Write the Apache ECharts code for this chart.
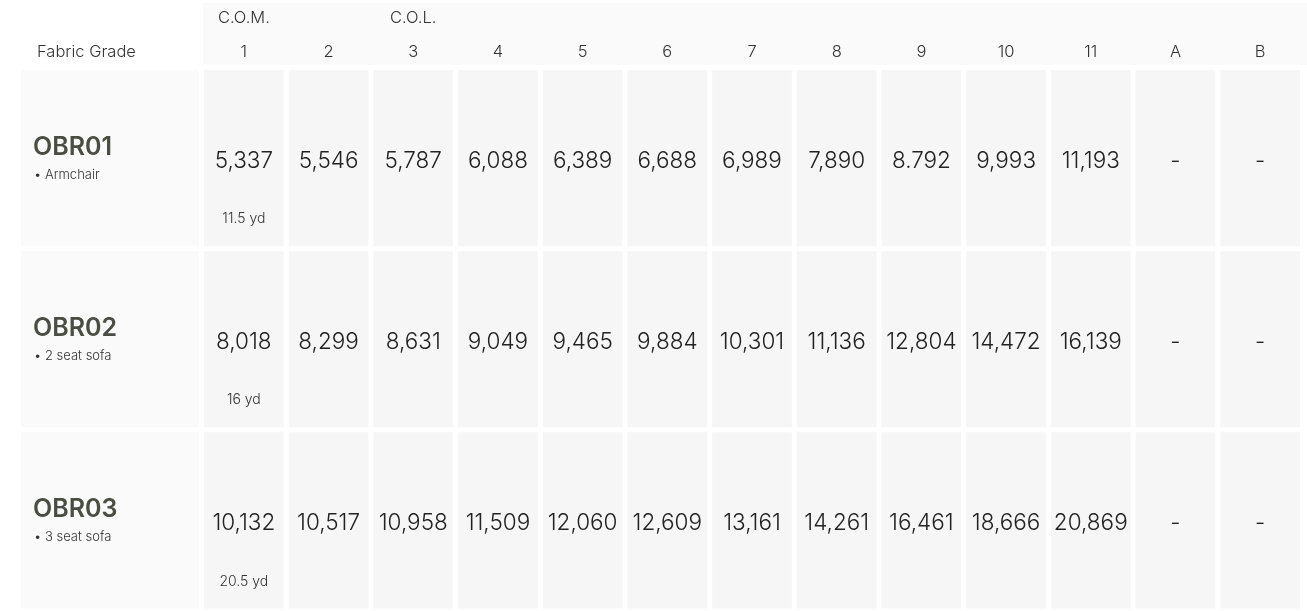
<!DOCTYPE html>
<html><head><meta charset="utf-8">
<script src="https://cdn.jsdelivr.net/npm/echarts@6/dist/echarts.min.js"></script>
<style>html,body{margin:0;padding:0;background:#fff}#c{width:1307px;height:611px}</style>
</head><body><div id="c"></div>
<script>
const grades = ['1','2','3','4','5','6','7','8','9','10','11','A','B'];
const gradeGroups = ['C.O.M.','','C.O.L.','','','','','','','','','',''];
const products = ['OBR01','OBR02','OBR03'];
const productTypes = ['Armchair','2 seat sofa','3 seat sofa'];
const yardage = ['11.5 yd','16 yd','20.5 yd'];
const pricesOBR01 = ['5,337','5,546','5,787','6,088','6,389','6,688','6,989','7,890','8.792','9,993','11,193','-','-'];
const pricesOBR02 = ['8,018','8,299','8,631','9,049','9,465','9,884','10,301','11,136','12,804','14,472','16,139','-','-'];
const pricesOBR03 = ['10,132','10,517','10,958','11,509','12,060','12,609','13,161','14,261','16,461','18,666','20,869','-','-'];
const priceRows = [pricesOBR01, pricesOBR02, pricesOBR03];

const FONT = 'Inter, "Noto Sans", sans-serif';
const cellData = [];
priceRows.forEach((row, r) => row.forEach((v, c) => cellData.push([c, r, v, c === 0 ? yardage[r] : ''])));
const labelData = products.map((p, r) => [0, r, p, productTypes[r]]);

const chart = echarts.init(document.getElementById('c'));
chart.setOption({
  animation: false,
  title: { text: 'Fabric Grade', left: 32, top: 39, textStyle: { fontFamily: FONT, fontSize: 16.5, fontWeight: 300, color: '#333' } },
  graphic: [{ type: 'rect', z: -10, shape: { x: 203, y: 3, width: 1104, height: 62 }, style: { fill: '#fafafa' } }],
  grid: [
    { left: 201.5, right: 4.5, top: 67.5, bottom: -0.5 },
    { left: 18.5, width: 183, top: 67.5, bottom: -0.5 }
  ],
  xAxis: [
    { type: 'category', gridIndex: 0, data: grades, position: 'top', axisLine: { show: false }, axisTick: { show: false },
      axisLabel: { margin: 6.5, fontFamily: FONT, fontSize: 16.5, fontWeight: 300, color: '#333' } },
    { type: 'category', gridIndex: 0, data: gradeGroups, position: 'top', offset: 34, axisLine: { show: false }, axisTick: { show: false },
      axisLabel: { margin: 6.5, fontFamily: FONT, fontSize: 16.5, fontWeight: 300, color: '#333', interval: 0 } },
    { type: 'category', gridIndex: 1, data: ['Fabric Grade'], show: false }
  ],
  yAxis: [
    { type: 'category', gridIndex: 0, data: products, inverse: true, show: false },
    { type: 'category', gridIndex: 1, data: products, inverse: true, show: false }
  ],
  series: [
    { type: 'custom', xAxisIndex: 0, yAxisIndex: 0, data: cellData,
      renderItem: function (params, api) {
        const d = cellData[params.dataIndex];
        const c = api.coord([api.value(0), api.value(1)]);
        const s = api.size([1, 1]);
        const children = [
          { type: 'rect', shape: { x: c[0] - s[0] / 2 + 2.5, y: c[1] - s[1] / 2 + 2.5, width: s[0] - 5, height: s[1] - 5 }, style: { fill: '#f6f6f6' } },
          { type: 'text', style: { x: c[0], y: c[1] + 3, text: d[2], align: 'center', verticalAlign: 'middle', font: '300 22.5px ' + FONT, fill: '#222' } }
        ];
        if (d[3]) children.push({ type: 'text', style: { x: c[0], y: c[1] + 61, text: d[3], align: 'center', verticalAlign: 'middle', font: '300 14px ' + FONT, fill: '#333' } });
        return { type: 'group', children: children };
      } },
    { type: 'custom', xAxisIndex: 2, yAxisIndex: 1, data: labelData,
      renderItem: function (params, api) {
        const d = labelData[params.dataIndex];
        const c = api.coord([api.value(0), api.value(1)]);
        const s = api.size([1, 1]);
        const x0 = c[0] - s[0] / 2 + 2.5;
        return { type: 'group', children: [
          { type: 'rect', shape: { x: x0, y: c[1] - s[1] / 2 + 2.5, width: s[0] - 5, height: s[1] - 5 }, style: { fill: '#fafafa' } },
          { type: 'text', style: { x: x0 + 12, y: c[1] - 11, text: d[2], align: 'left', verticalAlign: 'middle', font: '600 25px ' + FONT, fill: '#4a4d42' } },
          { type: 'text', style: { x: x0 + 13, y: c[1] + 17, text: '• ' + d[3], align: 'left', verticalAlign: 'middle', font: '300 13px ' + FONT, fill: '#333' } }
        ] };
      } }
  ]
});
</script></body></html>
